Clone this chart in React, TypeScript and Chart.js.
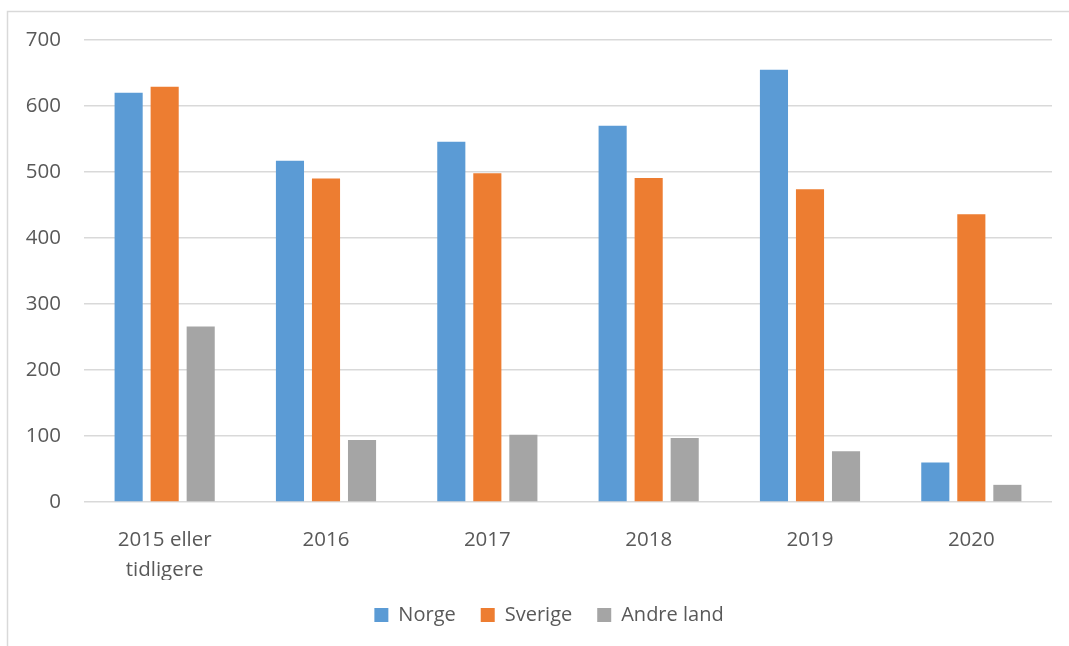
import React, { useEffect, useRef } from "react";
import { Chart, registerables } from "chart.js";

Chart.register(...registerables);

const categories: (string | string[])[] = [["2015 eller", "tidligere"], "2016", "2017", "2018", "2019", "2020"];
const norge = [620, 517, 546, 570, 655, 60];
const sverige = [629, 490, 498, 491, 474, 436];
const andreLand = [266, 94, 102, 97, 77, 26];
const seriesNames = ["Norge", "Sverige", "Andre land"];
const seriesColors = ["#5B9BD5", "#ED7D31", "#A5A5A5"];

const FONT = "'Open Sans', 'Noto Sans', sans-serif";
const TEXT = "#595959";

const borderPlugin = {
  id: "frameBorder",
  beforeDraw(chart: any) {
    const ctx = chart.ctx;
    ctx.save();
    ctx.fillStyle = "#ffffff";
    ctx.fillRect(0, 0, chart.width, chart.height);
    ctx.strokeStyle = "#D9D9D9";
    ctx.lineWidth = 1.5;
    ctx.beginPath();
    ctx.moveTo(7.5, chart.height);
    ctx.lineTo(7.5, 11.5);
    ctx.lineTo(chart.width, 11.5);
    ctx.stroke();
    ctx.restore();
  },
};

const legendShiftPlugin = {
  id: "legendShift",
  afterLayout(chart: any) {
    const lg = chart.legend;
    if (lg) {
      lg.left += 23;
      lg.right += 23;
    }
  },
};

export default function App() {
  const ref = useRef<HTMLCanvasElement | null>(null);
  useEffect(() => {
    document.body.style.margin = "0";
    if (!ref.current) return;
    const chart = new Chart(ref.current, {
      type: "bar",
      data: {
        labels: categories,
        datasets: [norge, sverige, andreLand].map((d, i) => ({
          label: seriesNames[i],
          data: d,
          backgroundColor: seriesColors[i],
          borderWidth: 0,
          barPercentage: 0.78,
          categoryPercentage: 0.67,
        })),
      },
      options: {
        animation: false,
        responsive: false,
        maintainAspectRatio: false,
        layout: { padding: { left: 0, right: 17, top: 40, bottom: 11 } },
        plugins: {
          legend: {
            position: "bottom",
            labels: {
              boxWidth: 14,
              boxHeight: 14,
              padding: 25,
              color: TEXT,
              font: { family: FONT, size: 20 },
            },
          },
          tooltip: { enabled: false },
        },
        scales: {
          x: {
            grid: { display: false },
            border: { display: false },
            ticks: {
              color: TEXT,
              font: { family: FONT, size: 20.5, lineHeight: 1.42 },
              padding: 16,
              maxRotation: 0,
              autoSkip: false,
            },
            afterFit: (s: any) => {
              s.height = 78;
            },
          },
          y: {
            min: 0,
            max: 700,
            grid: { color: "#D9D9D9", lineWidth: 1.5, drawTicks: false },
            border: { display: false },
            ticks: {
              stepSize: 100,
              color: TEXT,
              font: { family: FONT, size: 20.5 },
              padding: 23,
            },
            afterFit: (s: any) => {
              s.width = 84;
            },
          },
        },
      },
      plugins: [borderPlugin, legendShiftPlugin],
    });
    return () => chart.destroy();
  }, []);
  return (
    <div style={{ position: "absolute", left: 0, top: 0, width: 1069, height: 646 }}>
      <canvas ref={ref} width={1069} height={646} style={{ width: 1069, height: 646, display: "block" }} />
    </div>
  );
}
